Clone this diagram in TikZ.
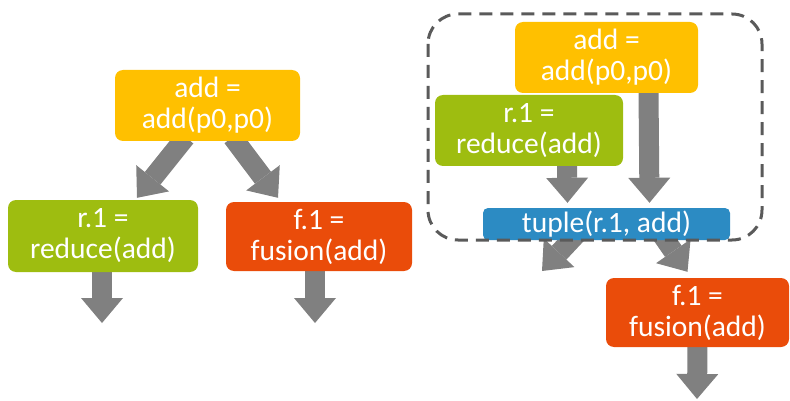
\documentclass[tikz,border=0pt]{standalone}
\usepackage{fontspec}
\setmainfont{Carlito}
\usetikzlibrary{arrows.meta,calc,backgrounds}

\definecolor{cyellow}{RGB}{255,192,0}
\definecolor{cgreen}{RGB}{158,189,16}
\definecolor{corange}{RGB}{234,76,10}
\definecolor{cblue}{RGB}{44,139,195}
\definecolor{arrowgray}{RGB}{128,128,128}
\definecolor{framegray}{RGB}{90,90,90}

\tikzset{
  box/.style={rounded corners=8pt, text=white, align=center,
    font=\fontsize{29.5}{31}\selectfont, inner sep=0pt},
  bigarrow/.style={draw=arrowgray, line width=20pt,
    -{Triangle[width=42pt,length=25pt,line width=0pt]}},
  groupframe/.style={draw=framegray, line width=3pt, rounded corners=30pt,
    dash pattern=on 13pt off 8pt},
}

\begin{document}
\begin{tikzpicture}[x=1pt,y=-1pt]
\useasboundingbox (0,0) rectangle (790,401);

% ---------- unfused graph ----------
\node[box, fill=cyellow, minimum width=185pt, minimum height=71pt] (ladd) at (207.5,105.5) {add =\\add(p0,p0)};
\node[box, fill=cgreen,  minimum width=190pt, minimum height=72pt] (lr1)  at (103,236) {r.1 =\\reduce(add)};
\node[box, fill=corange, minimum width=186pt, minimum height=69pt] (lf1)  at (319,236.5) {f.1 =\\fusion(add)};

\coordinate (lr1out) at (102,323);
\coordinate (lf1out) at (315,323);

% ---------- fused graph ----------
\node[box, fill=cyellow, minimum width=183pt, minimum height=71pt] (radd) at (606.5,57.5) {add =\\add(p0,p0)};
\node[box, fill=cgreen,  minimum width=188pt, minimum height=71pt] (rr1)  at (529,130.5) {r.1 =\\reduce(add)};
\node[box, fill=cblue, rounded corners=5pt, minimum width=247pt, minimum height=32pt] (tup) at (606.5,224) {tuple(r.1, add)};
\node[box, fill=corange, minimum width=183pt, minimum height=69pt] (rf1)  at (697.5,312.5) {f.1 =\\fusion(add)};

\coordinate (tupleft) at (542,271);
\coordinate (rf1out)  at (697,399);

% ---------- block arrows, behind the boxes ----------
\begin{scope}[on background layer]
\draw[bigarrow] ($(ladd.south)+(-22,-4)$) -- ($(lr1.north)+(34,-2)$);
\draw[bigarrow] ($(ladd.south)+(25,-4)$)  -- ($(lf1.north)+(-41,-4)$);
\draw[bigarrow] ($(lr1.south)+(-1,-2)$) -- (lr1out);
\draw[bigarrow] ($(lf1.south)+(-4,-2)$) -- (lf1out);

\draw[bigarrow] ($(rr1.south)+(38,-2)$) -- ($(tup.north)+(-39,-5)$);
\draw[bigarrow] ($(radd.south)+(42,-2)$) -- ($(tup.north)+(43,-5)$);
\draw[bigarrow] ($(tup.south)+(-30,-6)$) -- (tupleft);
\draw[bigarrow] ($(tup.south)+(55,-6)$)  -- ($(rf1.north)+(-10,-6)$);
\draw[bigarrow] ($(rf1.south)+(0,-2)$) -- (rf1out);
\end{scope}

% dashed frame around the fused part
\draw[groupframe] (428,14) rectangle (762,240);
\end{tikzpicture}
\end{document}
